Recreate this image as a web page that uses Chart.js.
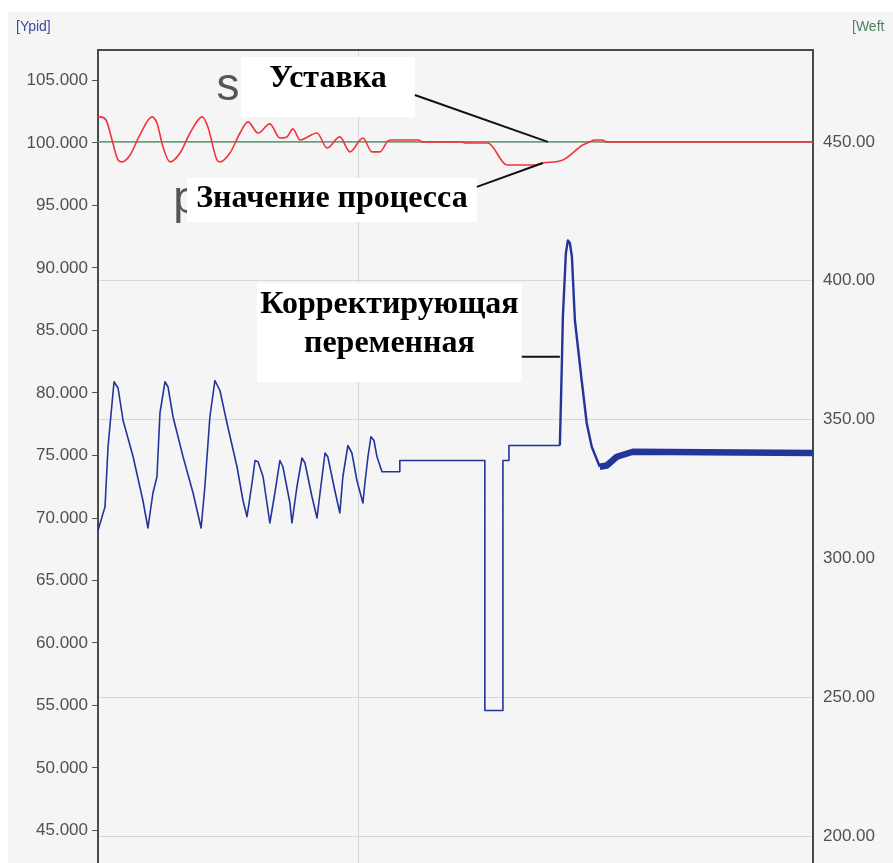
<!DOCTYPE html>
<html>
<head>
<meta charset="utf-8">
<script src="https://cdn.jsdelivr.net/npm/chart.js@4"></script>
<style>
  html, body { margin: 0; padding: 0; background: #fff; overflow: hidden; }
  canvas { display: block; }
</style>
</head>
<body>
<canvas id="trend" width="893" height="863"></canvas>
<script>
// время (с), сетка по x каждые 100 с
const xMin = -4;
const xMax = 281;

// значение процесса (правая шкала, Weft)
const pvTime = [-4, -3.2, -0.8, 1.6, 4.0, 5.6, 8.8, 12.7, 17.5, 19.5, 21.9, 24.7, 28.7, 32.7, 37.5, 39.8, 43.4, 44.6, 48.6, 52.6,
  55.8, 59.8, 64.5, 68.5, 71.3, 73.7, 76.5, 83.3, 87.3, 92.4, 96.4, 101.6, 105.2, 108.4, 111.6, 113.1, 123.9, 125.1, 141.0, 142.6,
  151.4, 159.0, 170.1, 173.3, 181.3, 189.2, 192.0, 194.0, 197.2, 198.4, 281];
const pvValues = [459.0, 459.0, 457.9, 450.7, 443.5, 442.8, 445.3, 452.5, 459.0, 456.8, 448.2, 442.8, 446.0, 453.2, 459.0, 455.4, 443.5, 442.8, 446.0, 453.2,
  457.2, 453.2, 456.5, 451.4, 451.8, 454.7, 450.7, 453.2, 447.8, 451.8, 446.4, 451.4, 446.4, 446.4, 450.4, 450.7, 450.7, 450.0, 450.0, 449.6,
  449.6, 441.7, 441.7, 442.4, 443.5, 448.9, 450.0, 450.7, 450.7, 450.0, 450.0];

// уставка (правая шкала)
const spTime = [-4, 281];
const spValues = [450, 450];

// корректирующая переменная (левая шкала, Ypid)
const ypidTime = [-4, -1.2, 0.0, 1.6, 2.4, 4.0, 6.0, 10.0, 13.9, 15.9, 17.9, 19.5, 20.7, 22.7, 23.9, 25.9, 29.9, 33.9, 37.1, 38.6,
  40.6, 42.6, 44.6, 47.4, 51.4, 53.8, 55.4, 57.4, 58.6, 59.8, 61.8, 64.5, 66.5, 68.5, 69.7, 72.5, 73.3, 75.3, 77.3, 78.5,
  81.3, 83.3, 84.5, 86.5, 87.6, 90.4, 92.4, 93.6, 95.6, 97.2, 99.2, 101.6, 102.4, 103.6, 104.8, 106.0, 107.2, 109.2, 116.3, 116.3,
  150.2, 150.2, 157.4, 157.4, 159.8, 159.8, 180.1, 180.9, 181.3, 182.5, 183.3, 184.1, 184.9, 186.1, 188.8, 190.8, 192.8, 196.0, 198.8, 202.8,
  209.2, 281];
const ypidValues = [69.0, 70.9, 75.7, 79.2, 80.9, 80.4, 77.8, 74.9, 71.4, 69.2, 72.0, 73.3, 78.4, 80.9, 80.5, 78.1, 74.9, 72.0, 69.2, 72.5,
  78.1, 81.0, 80.2, 77.6, 74.1, 71.4, 70.1, 72.8, 74.6, 74.5, 73.3, 69.6, 72.0, 74.6, 74.1, 71.2, 69.6, 72.5, 74.8, 74.4,
  71.7, 70.0, 72.0, 75.2, 74.9, 72.2, 70.4, 73.3, 75.8, 75.2, 73.0, 71.2, 72.8, 74.9, 76.5, 76.2, 74.9, 73.7, 73.7, 74.6,
  74.6, 54.6, 54.6, 74.6, 74.6, 75.8, 75.8, 82.4, 86.1, 91.2, 92.2, 92.0, 90.9, 85.8, 81.0, 77.6, 75.7, 74.1, 74.2, 74.9,
  75.3, 75.2];

// диапазоны шкал
const leftMin = 42.4, leftMax = 107.44;
const rightMin = 190.3, rightMax = 483.1;

// подписи поверх графика (координаты в единицах t / Weft)
const labelBoxes = [
  { x0: 53.0, x1: 122.3, y0: 480.6, y1: 459.0, lines: ['Уставка'], ys: [472.6] },
  { x0: 31.5, x1: 147.0, y0: 437.0, y1: 421.2, lines: ['Значение процесса'], ys: [429.6] },
  { x0: 59.4, x1: 164.9, y0: 399.2, y1: 363.5, lines: ['Корректирующая', 'переменная'], ys: [391.4, 377.4] }
];
const leaderLines = [
  [122.3, 466.9, 175.3, 450.0],
  [147.0, 433.8, 173.3, 442.4],
  [164.9, 372.6, 180.1, 372.6]
];
const ghostLetters = [
  { text: 's', x: 47.8, y: 465.1 },
  { text: 'p', x: 31.1, y: 424.4 }
];

const zip = (xs, ys) => xs.map((x, i) => ({ x, y: ys[i] }));

const frame = {
  id: 'frame',
  beforeDraw(chart) {
    const ctx = chart.ctx;
    ctx.save();
    ctx.fillStyle = '#ffffff';
    ctx.fillRect(0, 0, chart.width, chart.height);
    ctx.fillStyle = '#f5f5f5';
    ctx.fillRect(8, 12, chart.width - 8, chart.height - 12);
    ctx.font = '14px "Liberation Sans", Arial, sans-serif';
    ctx.textBaseline = 'middle';
    ctx.fillStyle = '#3b4aa0';
    ctx.fillText('[Ypid]', 16, 27);
    ctx.fillStyle = '#4f8060';
    ctx.fillText('[Weft', 852, 27);
    ctx.restore();
  },
  afterDatasetsDraw(chart) {
    const ctx = chart.ctx;
    const sx = chart.scales.x, sy = chart.scales.yRight;
    ctx.save();
    // остатки старых подписей
    ctx.fillStyle = '#555';
    ctx.font = '46px "Liberation Sans", Arial, sans-serif';
    ctx.textAlign = 'center';
    ctx.textBaseline = 'alphabetic';
    ghostLetters.forEach((g) => ctx.fillText(g.text, sx.getPixelForValue(g.x), sy.getPixelForValue(g.y)));
    // белые плашки с текстом
    ctx.font = 'bold 32px "Liberation Serif", "Times New Roman", serif';
    ctx.textBaseline = 'middle';
    labelBoxes.forEach((b) => {
      const l = sx.getPixelForValue(b.x0), r = sx.getPixelForValue(b.x1);
      const t = sy.getPixelForValue(b.y0), btm = sy.getPixelForValue(b.y1);
      ctx.fillStyle = '#ffffff';
      ctx.fillRect(l, t, r - l, btm - t);
      ctx.fillStyle = '#000';
      b.lines.forEach((s, i) => ctx.fillText(s, (l + r) / 2, sy.getPixelForValue(b.ys[i])));
    });
    // выноски
    ctx.strokeStyle = '#111';
    ctx.lineWidth = 2;
    leaderLines.forEach(([x0, y0, x1, y1]) => {
      ctx.beginPath();
      ctx.moveTo(sx.getPixelForValue(x0), sy.getPixelForValue(y0));
      ctx.lineTo(sx.getPixelForValue(x1), sy.getPixelForValue(y1));
      ctx.stroke();
    });
    ctx.restore();
  }
};

const tickFont = { family: '"Liberation Sans", Arial, sans-serif', size: 17 };

// шкалы должны доходить до самого края холста
const noEdgePadding = (s) => { s.paddingTop = 0; s.paddingBottom = 0; };

// первый набор рисуется поверх остальных: значение процесса лежит на уставке
new Chart(document.getElementById('trend'), {
  type: 'line',
  data: {
    datasets: [
      {
        label: 'Значение процесса',
        data: zip(pvTime, pvValues),
        yAxisID: 'yRight',
        borderColor: '#f2333c',
        borderWidth: 1.6,
        pointRadius: 0,
        cubicInterpolationMode: 'monotone'
      },
      {
        label: 'Уставка',
        data: zip(spTime, spValues),
        yAxisID: 'yRight',
        borderColor: '#6d9c7c',
        borderWidth: 1.6,
        pointRadius: 0
      },
      {
        label: 'Корректирующая переменная',
        data: zip(ypidTime, ypidValues),
        yAxisID: 'yLeft',
        borderColor: '#23349b',
        borderWidth: 1.6,
        pointRadius: 0,
        borderJoinStyle: 'round',
        segment: {
          borderWidth: (c) => {
            const t = c.p0.parsed.x;
            if (t >= 196) return 6.5;
            if (t >= 180) return 2.4;
            return 1.6;
          }
        }
      }
    ]
  },
  options: {
    responsive: false,
    animation: false,
    devicePixelRatio: 1,
    layout: { padding: { left: 8, top: 50, right: 0, bottom: 0 } },
    plugins: { legend: { display: false }, tooltip: { enabled: false } },
    scales: {
      x: {
        type: 'linear',
        position: 'top',
        min: xMin,
        max: xMax,
        ticks: { display: false, stepSize: 100, includeBounds: false },
        grid: {
          drawTicks: false,
          color: (c) => (c.tick && c.tick.value === 100 ? '#d4d4d4' : 'rgba(0,0,0,0)')
        },
        border: { color: '#4a4a4a', width: 2 },
        afterFit: (s) => { s.height = 0; s.paddingLeft = 0; s.paddingRight = 0; }
      },
      yLeft: {
        type: 'linear',
        position: 'left',
        min: leftMin,
        max: leftMax,
        ticks: {
          stepSize: 5,
          includeBounds: false,
          padding: 4,
          color: '#505050',
          font: tickFont,
          callback: (v) => v.toFixed(3)
        },
        grid: { drawOnChartArea: false, tickLength: 6, color: '#555' },
        border: { color: '#4a4a4a', width: 2 },
        afterFit: (s) => { s.width = 90; noEdgePadding(s); }
      },
      yRight: {
        type: 'linear',
        position: 'right',
        min: rightMin,
        max: rightMax,
        ticks: {
          stepSize: 50,
          includeBounds: false,
          padding: 10,
          color: '#505050',
          font: tickFont,
          callback: (v) => v.toFixed(2)
        },
        grid: {
          drawTicks: false,
          color: (c) => (c.tick && (c.tick.value === 300 || c.tick.value === 450) ? 'rgba(0,0,0,0)' : '#d8d8d8')
        },
        border: { color: '#4a4a4a', width: 2 },
        afterFit: (s) => { s.width = 80; noEdgePadding(s); }
      }
    }
  },
  plugins: [frame]
});
</script>
</body>
</html>
